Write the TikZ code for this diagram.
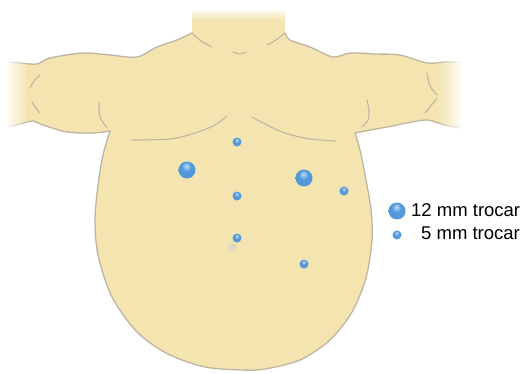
\documentclass[tikz,border=0pt]{standalone}
\usepackage{fontspec}
\newfontfamily\keyfont{Liberation Sans}
\usetikzlibrary{fadings}

\definecolor{portL}{RGB}{190,222,250}
\definecolor{portB}{RGB}{84,152,220}
\definecolor{portD}{RGB}{40,96,170}
\pgfdeclareradialshading{trocar}{\pgfqpoint{-2bp}{12bp}}{color(0bp)=(portL); color(14bp)=(portB); color(36bp)=(portB); color(52bp)=(portD); color(70bp)=(portD)}

\begin{document}
\begin{tikzpicture}[
  x=1bp, y=-1bp,
  rim/.style={draw=rimG, line width=1.3bp, line join=round, line cap=round},
  crease/.style={draw=rimG, line width=1.1bp, line cap=round},
  port/.style={circle, inner sep=0pt, shade, shading=trocar},
  port12/.style={port, minimum size=17bp},
  port5/.style={port, minimum size=9bp},
  key/.style={font=\keyfont\fontsize{18.5bp}{21bp}\selectfont, inner sep=0pt, anchor=west}
]
\definecolor{skinY}{RGB}{244,229,176}
\definecolor{rimG}{RGB}{190,180,162}

\useasboundingbox (0,0) rectangle (523,373);

% torso
\fill[skinY] (192,11) -- (285,11) -- (285,33)
  -- plot[smooth] coordinates {(285,33) (290,40) (310,47) (333,57) (350,53) (375,54) (400,55) (427,63) (445,62) (460,62)}
  -- (460,128)
  -- plot[smooth] coordinates {(460,128) (445,125) (427,120) (407,123) (387,127) (365,131) (355,133)}
  -- plot[smooth] coordinates {(355,133) (360,150) (366,180) (371,210) (372,240) (366,278) (352,312) (330,340) (300,360) (265,369) (243,370) (205,367) (168,354) (137,332) (112,297) (98,255) (95,220) (98,185) (103,155) (110,131)}
  -- plot[smooth] coordinates {(110,131) (93,133) (67,132) (43,125) (33,121) (20,124) (8,127)}
  -- (8,62)
  -- plot[smooth] coordinates {(8,62) (20,63) (37,64) (50,58) (83,53) (110,55) (137,57) (157,47) (177,40) (192,33)}
  -- cycle;

% outline
\draw[rim] plot[smooth] coordinates {(285,33) (290,40) (310,47) (333,57) (350,53) (375,54) (400,55) (427,63) (445,62) (460,62)};
\draw[rim] plot[smooth] coordinates {(460,128) (445,125) (427,120) (407,123) (387,127) (365,131) (355,133)}
  -- plot[smooth] coordinates {(355,133) (360,150) (366,180) (371,210) (372,240) (366,278) (352,312) (330,340) (300,360) (265,369) (243,370) (205,367) (168,354) (137,332) (112,297) (98,255) (95,220) (98,185) (103,155) (110,131)}
  -- plot[smooth] coordinates {(110,131) (93,133) (67,132) (43,125) (33,121) (20,124) (8,127)};
\draw[rim] plot[smooth] coordinates {(8,62) (20,63) (37,64) (50,58) (83,53) (110,55) (137,57) (157,47) (177,40) (192,33)};

% neck, chest and arm creases
\draw[crease] plot[smooth] coordinates {(192,33) (201,41) (212,47)};
\draw[crease] plot[smooth] coordinates {(285,33) (276,40) (267,45)};
\draw[crease] plot[smooth] coordinates {(233,52) (240,54) (246,52)};
\draw[crease] plot[smooth] coordinates {(227,116) (215,125) (195,133) (170,139) (132,140)};
\draw[crease] plot[smooth] coordinates {(252,117) (265,124) (285,133) (310,139) (336,141)};
\draw[crease] plot[smooth] coordinates {(99,103) (100,117) (107,128)};
\draw[crease] plot[smooth] coordinates {(40,75) (34,81) (30,88)};
\draw[crease] plot[smooth] coordinates {(32,102) (36,108) (40,113)};
\draw[crease] plot[smooth] coordinates {(367,100) (369,110) (368,120) (362,127)};
\draw[crease] plot[smooth] coordinates {(427,73) (430,86) (437,95)};
\draw[crease] plot[smooth] coordinates {(437,98) (430,107) (425,113)};

% soft ends of arms and neck
\fill[white, path fading=east] (4,50) rectangle (28,140);
\fill[white, path fading=west] (438,50) rectangle (464,140);
\fill[white, path fading=south] (185,8) rectangle (292,20);

% trocar sites
\node[circle, inner sep=0pt, minimum size=8bp, fill=black!18, opacity=0.6] (t6b) at (232,247) {};
\foreach \n/\x/\y/\s in {1/237/142/port5, 2/187/170/port12, 3/304/178/port12, 4/237/196/port5,
                         5/344/191/port5, 6/237/238/port5, 7/304/264/port5} {
  \node[\s] (t\n) at (\x,\y) {};
}

% legend
\node[port12] (key12) at (397,211) {};
\node[port5] (key5) at (397,235) {};
\node[key] (lab12) at (411,210) {12 mm trocar};
\node[key] (lab5) at (421,233) {5 mm trocar};
\end{tikzpicture}
\end{document}
